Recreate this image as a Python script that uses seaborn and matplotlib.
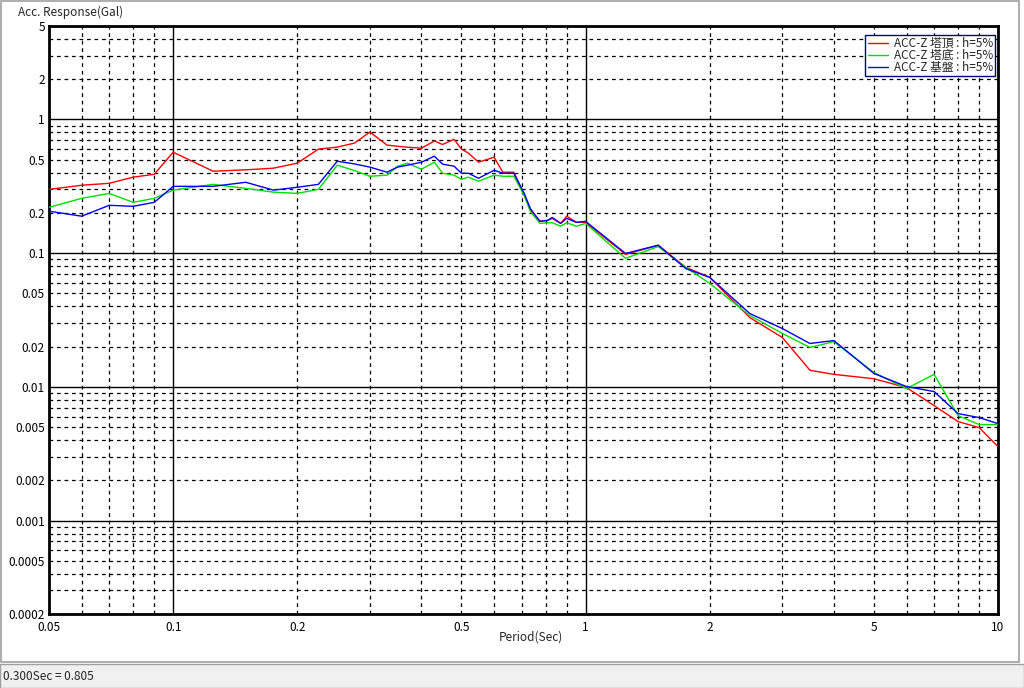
import numpy as np
import pandas as pd
import matplotlib
matplotlib.use("Agg")
import matplotlib.pyplot as plt
from matplotlib.ticker import LogLocator, FuncFormatter
from matplotlib.patches import Rectangle
import seaborn as sns

# periods (sec) shared by the three records
periods = [0.05, 0.06, 0.07, 0.08, 0.09, 0.1, 0.125, 0.15, 0.175, 0.2,
           0.225, 0.25, 0.275, 0.3, 0.33, 0.35, 0.37, 0.4, 0.43, 0.45,
           0.48, 0.5, 0.52, 0.55, 0.6, 0.63, 0.67, 0.71, 0.735, 0.775,
           0.81, 0.83, 0.87, 0.9, 0.95, 1.0, 1.25, 1.5, 1.75, 2.0,
           2.5, 3.0, 3.5, 4.0, 5.0, 6.0, 7.0, 8.0, 9.0, 10.0]

acc_top = [0.30, 0.322, 0.333, 0.37, 0.389, 0.569, 0.41, 0.42, 0.432, 0.471,
           0.60, 0.621, 0.665, 0.805, 0.643, 0.63, 0.62, 0.61, 0.69, 0.65,
           0.71, 0.60, 0.56, 0.479, 0.522, 0.403, 0.403, 0.271, 0.21, 0.173,
           0.176, 0.182, 0.167, 0.189, 0.17, 0.17, 0.098, 0.1146, 0.0783, 0.0659,
           0.033, 0.0234, 0.0133, 0.0124, 0.0115, 0.00988, 0.00724, 0.0055, 0.00496, 0.00357]

acc_bottom = [0.22, 0.257, 0.28, 0.24, 0.257, 0.296, 0.327, 0.305, 0.286, 0.28,
              0.30, 0.455, 0.415, 0.376, 0.383, 0.447, 0.471, 0.424, 0.479, 0.396,
              0.383, 0.357, 0.37, 0.345, 0.383, 0.376, 0.376, 0.27, 0.205, 0.167,
              0.169, 0.169, 0.159, 0.169, 0.159, 0.167, 0.0915, 0.112, 0.0783, 0.0594,
              0.0342, 0.0251, 0.0197, 0.0218, 0.0128, 0.0097, 0.0124, 0.0061, 0.00522, 0.00522]

acc_base = [0.206, 0.189, 0.228, 0.224, 0.24, 0.316, 0.316, 0.339, 0.296, 0.311,
            0.327, 0.487, 0.465, 0.44, 0.403, 0.44, 0.455, 0.479, 0.531, 0.463,
            0.447, 0.396, 0.396, 0.363, 0.417, 0.396, 0.396, 0.28, 0.215, 0.173,
            0.176, 0.185, 0.167, 0.182, 0.17, 0.173, 0.0995, 0.1146, 0.0766, 0.0659,
            0.0354, 0.0273, 0.0211, 0.0222, 0.0126, 0.01005, 0.00922, 0.00631, 0.00589, 0.00531]

series_names = ["ACC-Z 塔頂 : h=5%", "ACC-Z 塔底 : h=5%", "ACC-Z 基盤 : h=5%"]
series_colors = ["#ff0000", "#00e000", "#0000ff"]

df = pd.concat([
    pd.DataFrame({"Period": periods, "Acc": vals, "Series": name})
    for name, vals in zip(series_names, [acc_top, acc_bottom, acc_base])
])

sns.set_style("white")
plt.rcParams['font.family'] = ['Noto Sans CJK JP', 'DejaVu Sans']
fs = 8.5

fig = plt.figure(figsize=(10.24, 6.88), dpi=100)
W, H = 1024, 688
ax = fig.add_axes([49 / W, 1 - 614 / H, (998 - 49) / W, (614 - 26) / H])

sns.lineplot(data=df, x="Period", y="Acc", hue="Series", hue_order=series_names,
             palette=series_colors, estimator=None, linewidth=1, ax=ax, zorder=3)

ax.set_xscale("log")
ax.set_yscale("log")
ax.set_xlim(0.05, 10)
ax.set_ylim(0.0002, 5)

sub = np.arange(2, 10)
for axis in (ax.xaxis, ax.yaxis):
    axis.set_major_locator(LogLocator(base=10, numticks=20))
    axis.set_minor_locator(LogLocator(base=10, subs=sub, numticks=40))
    axis.set_major_formatter(FuncFormatter(lambda v, p: f"{v:g}"))


def minor_fmt(v, p):
    # only 2 and 5 of each decade carry a label
    m = round(v / 10 ** np.floor(np.log10(v) + 1e-9), 3)
    return f"{v:g}" if m in (2.0, 5.0) else ""


ax.xaxis.set_minor_formatter(FuncFormatter(minor_fmt))
ax.yaxis.set_minor_formatter(FuncFormatter(minor_fmt))

ax.tick_params(which="both", length=0, labelsize=fs, colors="black")
ax.tick_params(axis="x", which="both", pad=5)
ax.tick_params(axis="y", which="both", pad=3)

ax.grid(True, which="major", color="black", linestyle="-", linewidth=1)
ax.grid(True, which="minor", color="black", linestyle=(0, (3, 3)), linewidth=0.9)
ax.set_axisbelow(True)

for s in ax.spines.values():
    s.set_visible(True)
    s.set_color("black")
    s.set_linewidth(2)

ax.set_xlabel("")
ax.set_ylabel("")

leg = ax.legend(loc="upper right", bbox_to_anchor=(0.997, 0.985), fontsize=fs,
                frameon=True, fancybox=False, handlelength=1.7, handletextpad=0.5,
                borderpad=0.2, labelspacing=-0.1, borderaxespad=0)
leg.get_frame().set_edgecolor("#000080")
leg.get_frame().set_linewidth(1)
leg.get_frame().set_facecolor("white")
leg.get_frame().set_alpha(1)
leg.set_zorder(5)

fig.text(18 / W, 1 - 12 / H, "Acc. Response(Gal)", fontsize=fs, va="center", ha="left")
fig.text(531 / W, 1 - 637 / H, "Period(Sec)", fontsize=fs, va="center", ha="center")

# window frame and status bar
fig.patches.append(Rectangle((1 / W, 1 - 662 / H), 1018 / W, 661 / H, transform=fig.transFigure,
                             fill=False, edgecolor="#a0a0a0", linewidth=1.2, zorder=0))
fig.patches.append(Rectangle((0, 0), 1, (688 - 664) / H, transform=fig.transFigure,
                             facecolor="#f0f0f0", edgecolor="#a0a0a0", linewidth=1, zorder=0))
fig.text(3 / W, 1 - 676 / H, "0.300Sec = 0.805", fontsize=fs, va="center", ha="left")

fig.savefig("out.png", dpi=100)
